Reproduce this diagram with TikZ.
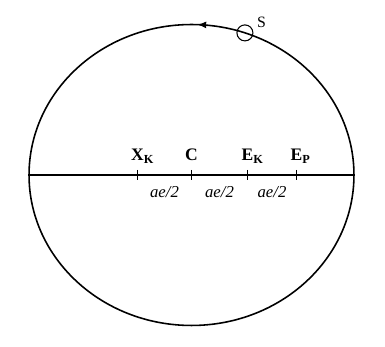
\documentclass[tikz,border=0pt]{standalone}
\usepackage{fontspec}
\setmainfont{Liberation Serif}
\usetikzlibrary{arrows.meta,calc,positioning,decorations.markings}

\begin{document}
\begin{tikzpicture}[x=0.02cm,y=0.02cm,line width=0.9pt,
  orbit/.style={postaction={decorate},
    decoration={markings,mark=at position 0.244 with {\arrow{Latex[length=5pt,width=4pt]}}}},
  axlbl/.style={anchor=base,yshift=8.3pt,inner sep=0pt,font=\fontsize{10}{12}\selectfont\bfseries},
  seglbl/.style={anchor=base,yshift=-12.8pt,inner sep=0pt,font=\fontsize{9.5}{11}\selectfont\itshape}]
\useasboundingbox (-191.5,-172) rectangle (193.5,175);
\coordinate (ctr) at (0,0);
% orbit and major axis
\draw[orbit] (ctr) ellipse [x radius=3.25cm, y radius=3.01cm];
\coordinate (lft) at ($(ctr)+(180:3.25cm and 3.01cm)$);
\coordinate (rgt) at ($(ctr)+(0:3.25cm and 3.01cm)$);
\draw (lft) -- (rgt);
% points on the axis
\coordinate (xk) at (-54,0);
\coordinate (c) at (0,0);
\coordinate (ek) at (56,0);
\coordinate (ep) at (105,0);
\foreach \p in {xk,c,ek,ep}
  \draw[line width=0.6pt] (\p) ++(0,5) -- ++(0,-10);
\node[axlbl] (lxk) at (xk) {X\rlap{\textsubscript{K}}};
\node[axlbl] (lc) at (c) {C};
\node[axlbl] (lek) at (ek) {E\rlap{\textsubscript{K}}};
\node[axlbl] (lep) at (ep) {E\rlap{\textsubscript{P}}};
\node[seglbl] (d1) at ($(xk)!.5!(c)$) {ae/2};
\node[seglbl] (d2) at ($(c)!.5!(ek)$) {ae/2};
\node[seglbl] (d3) at ($(ek)!.5!(ep)$) {ae/2};
% the satellite
\node[draw,circle,line width=0.6pt,minimum size=16*0.02cm,inner sep=0pt] (sat)
  at ($(ctr)+(70.8:3.25cm and 3.01cm)$) {};
\node[anchor=base west,inner sep=0pt,font=\fontsize{9}{10}\selectfont] (slbl)
  at ([xshift=3pt,yshift=-0.5pt]sat.north east) {S};
\end{tikzpicture}
\end{document}
